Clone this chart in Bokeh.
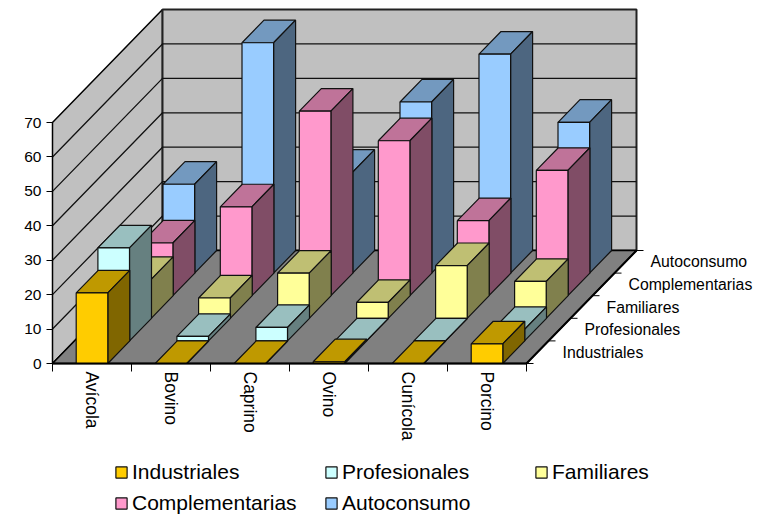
from math import pi
from bokeh.plotting import figure
from bokeh.models import LinearAxis, FixedTicker, Legend, LegendItem
from bokeh.core.properties import value
from bokeh.embed import file_html
from bokeh.resources import INLINE

categories = ["Avícola", "Bovino", "Caprino", "Ovino", "Cunícola", "Porcino"]
series_names = ["Industriales", "Profesionales", "Familiares", "Complementarias", "Autoconsumo"]
industriales = [20.5, 0, 0, 0.5, 0, 5.7]
profesionales = [27, 1.3, 3.9, 0, 0, 3.3]
familiares = [11.3, 5.9, 13.1, 4.6, 15.3, 10.7]
complementarias = [15.3, 25.8, 53.6, 45, 21.8, 36.4]
autoconsumo = [25.8, 66.9, 29.3, 49.7, 63.6, 43.8]
y_ticks = [0, 10, 20, 30, 40, 50, 60, 70]

series_values = [industriales, profesionales, familiares, complementarias, autoconsumo]
front = ["#FFCC00", "#CCFFFF", "#FFFF99", "#FF99CC", "#99CCFF"]
top = ["#BF9900", "#99BFBF", "#BFBF73", "#BF7399", "#7399BF"]
side = ["#806600", "#668080", "#80804D", "#804D66", "#4D6680"]

W, H = 771, 516
PX_CAT, PX_VAL = 79.0, 241 / 70
ORIGIN_X, ORIGIN_Y = 52.0, 363.0      # px of (0,0) within the frame
DX, DY = 22.0 / PX_CAT, 22.6 / PX_VAL  # one series step of depth, in data units
STEP_X = 21.7 / PX_CAT
BAR = 1 / 2.5
N, S = len(categories), len(series_names)
FONT = "Liberation Sans"

p = figure(width=W, height=H, output_backend="svg", toolbar_location=None,
           x_range=(-ORIGIN_X / PX_CAT, (W - ORIGIN_X) / PX_CAT),
           y_range=((ORIGIN_Y - H) / PX_VAL, ORIGIN_Y / PX_VAL),
           x_axis_type=None, y_axis_type=None, min_border=0,
           outline_line_color=None, background_fill_color="white")
p.grid.visible = False

# walls and floor
dmax_x, dmax_y = S * DX, S * DY
vtop = y_ticks[-1]
p.patch([0, dmax_x, dmax_x, 0], [0, dmax_y, vtop + dmax_y, vtop],
        fill_color="#C0C0C0", line_color="black", line_width=1.5)
p.patch([dmax_x, N + dmax_x, N + dmax_x, dmax_x], [dmax_y, dmax_y, vtop + dmax_y, vtop + dmax_y],
        fill_color="#C0C0C0", line_color="#222222", line_width=2)
p.patch([0, N, N + dmax_x, dmax_x], [0, 0, dmax_y, dmax_y],
        fill_color="#808080", line_color="black", line_width=1.5)
p.multi_line([[0, dmax_x, N + dmax_x] for v in y_ticks[1:-1]],
             [[v, v + dmax_y, v + dmax_y] for v in y_ticks[1:-1]],
             line_color="#111111", line_width=1.3)

# bars, back to front
fronts = {}
for s in reversed(range(S)):
    vals = series_values[s]
    x0 = [i + (1 - BAR) / 2 + s * STEP_X for i in range(N)]
    x1 = [x + BAR for x in x0]
    b = [s * DY] * N
    t = [b[i] + vals[i] for i in range(N)]
    p.patches([[x0[i], x1[i], x1[i] + DX, x0[i] + DX] for i in range(N)],
              [[t[i], t[i], t[i] + DY, t[i] + DY] for i in range(N)],
              fill_color=top[s], line_color="#111111", line_width=1.2)
    p.patches([[x1[i], x1[i] + DX, x1[i] + DX, x1[i]] for i in range(N)],
              [[b[i], b[i] + DY, t[i] + DY, t[i]] for i in range(N)],
              fill_color=side[s], line_color="#111111", line_width=1.2)
    fronts[s] = p.quad(left=x0, right=x1, bottom=b, top=t,
                       fill_color=front[s], line_color="#111111", line_width=1.2)

# front edge of the floor and depth axis
p.line([0, N], [0, 0], line_color="black", line_width=2)
p.line([N, N + dmax_x], [0, dmax_y], line_color="black", line_width=2)
p.segment(x0=[N + s * DX for s in range(S + 1)], y0=[s * DY for s in range(S + 1)],
          x1=[N + s * DX + 7 / PX_CAT for s in range(S + 1)], y1=[s * DY for s in range(S + 1)],
          line_color="black", line_width=1)
p.text(x=[N + (s + 0.5) * DX for s in range(S)], y=[(s + 0.5) * DY for s in range(S)],
       text=series_names, x_offset=25, text_align="left", text_baseline="middle",
       text_font=value(FONT), text_font_size="15.8px", text_color="black")

# value axis
ya = LinearAxis(fixed_location=0, ticker=FixedTicker(ticks=y_ticks), bounds=(0, vtop),
                axis_line_color="black", major_tick_line_color="black", minor_tick_line_color=None,
                major_tick_in=0, major_tick_out=6, major_label_standoff=5,
                major_label_text_font=FONT, major_label_text_font_size="15.5px",
                major_label_text_color="black")
p.add_layout(ya, "left")

# category axis: labels at the centres, tick marks at the boundaries
centres = [i + 0.5 for i in range(N)]
xa = LinearAxis(fixed_location=0,
                ticker=FixedTicker(ticks=centres, minor_ticks=list(range(N + 1))),
                bounds=(0, N), axis_line_color="black",
                major_tick_line_color=None, major_tick_in=0, major_tick_out=0,
                minor_tick_line_color="black", minor_tick_in=0, minor_tick_out=8,
                major_label_standoff=0, major_label_orientation=-pi / 2,
                major_label_overrides={c: n for c, n in zip(centres, categories)},
                major_label_text_font=FONT, major_label_text_font_size="17.5px",
                major_label_text_color="black")
p.add_layout(xa, "below")

legend = Legend(items=[LegendItem(label=series_names[s], renderers=[fronts[s]]) for s in range(S)],
                location=(114, 1), orientation="horizontal", ncols=3,
                glyph_width=14, glyph_height=14, label_standoff=4, label_width=185, label_height=23,
                spacing=7, margin=0, padding=0, border_line_color=None, background_fill_alpha=0,
                label_text_font=FONT, label_text_font_size="21px", label_text_color="black")
p.add_layout(legend)

open("out.html", "w").write(file_html(p, INLINE))
